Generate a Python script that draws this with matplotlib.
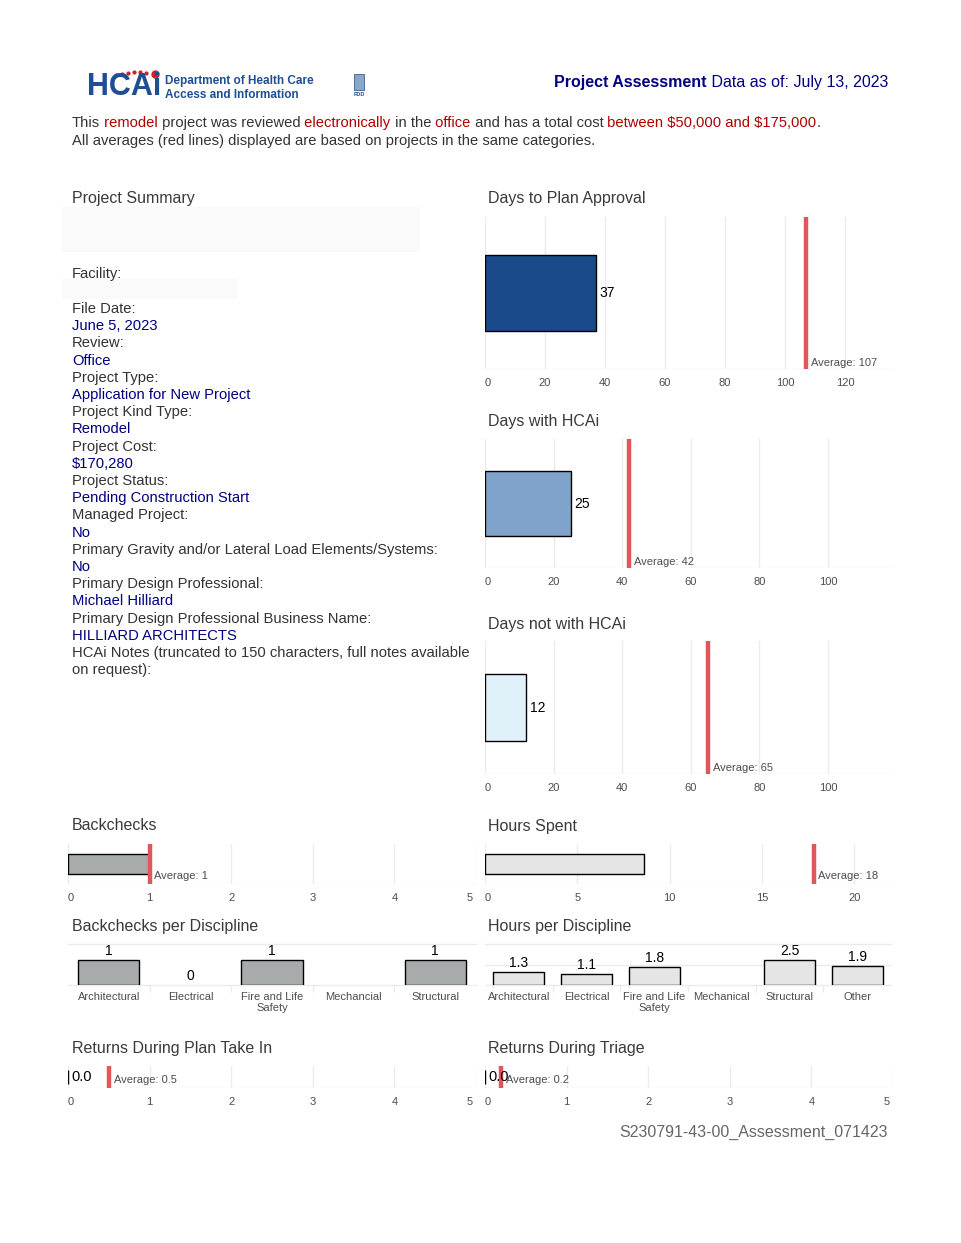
import matplotlib
matplotlib.use("Agg")
import matplotlib.pyplot as plt
from matplotlib.patches import Rectangle
from matplotlib.lines import Line2D
import matplotlib.transforms as mtransforms

plt.rcParams['font.family'] = ['Liberation Sans', 'DejaVu Sans']
plt.rcParams['text.parse_math'] = False

# ---------------- data ----------------
report_date = "July 13, 2023"
report_id = "S230791-43-00_Assessment_071423"

summary_labels = ["File Date:", "Review:", "Project Type:", "Project Kind Type:",
                  "Project Cost:", "Project Status:", "Managed Project:",
                  "Primary Gravity and/or Lateral Load Elements/Systems:",
                  "Primary Design Professional:",
                  "Primary Design Professional Business Name:"]
summary_values = ["June 5, 2023", "Office", "Application for New Project", "Remodel",
                  "$170,280", "Pending Construction Start", "No", "No",
                  "Michael Hilliard", "HILLIARD ARCHITECTS"]

plan_approval_days = 37
plan_approval_avg = 107
hcai_days = 25
hcai_avg = 42
not_hcai_days = 12
not_hcai_avg = 65
backchecks_total = 1
backchecks_avg = 1
hours_total = 8.6
hours_avg = 17.8
returns_take_in = 0.0
returns_take_in_avg = 0.5
returns_triage = 0.0
returns_triage_avg = 0.2

backcheck_disciplines = ["Architectural", "Electrical", "Fire and Life\nSafety", "Mechancial", "Structural"]
backcheck_counts = [1, 0, 1, None, 1]
hours_disciplines = ["Architectural", "Electrical", "Fire and Life\nSafety", "Mechanical", "Structural", "Other"]
hours_by_discipline = [1.3, 1.1, 1.8, None, 2.5, 1.9]

days_ticks = [0, 20, 40, 60, 80, 100, 120]
days_ticks2 = [0, 20, 40, 60, 80, 100]
count_ticks = [0, 1, 2, 3, 4, 5]
hours_ticks = [0, 5, 10, 15, 20]

# ---------------- style ----------------
W, H = 961, 1243
fig = plt.figure(figsize=(W / 100, H / 100), dpi=100)
fig.patch.set_facecolor('white')
R = fig.canvas.get_renderer()

NAVY = '#000080'
DARKRED = '#B00000'
TXT = '#333333'
GRID = '#EBEBEB'
TICK = '#4D4D4D'
AVG_RED = '#DF565B'
LOGO_BLUE = '#1F4E93'
BODY = 10.65


def fy(y):
    return 1 - y / H


def add_ax(l, t, r, b):
    ax = fig.add_axes([l / W, 1 - b / H, (r - l) / W, (b - t) / H])
    for s in ax.spines.values():
        s.set_visible(False)
    ax.set_facecolor('none')
    return ax


def rich(x, y, parts, size, ha='left'):
    texts, cur = [], x / W
    for s, color, weight in parts:
        t = fig.text(cur, fy(y), s, color=color, fontsize=size, fontweight=weight,
                     va='center', ha='left')
        cur += t.get_window_extent(renderer=R).width / W
        texts.append(t)
    if ha == 'right':
        shift = x / W - cur
        for t in texts:
            px, py = t.get_position()
            t.set_position((px + shift, py))


def title(x, y, s):
    fig.text(x / W, fy(y + 1), s, fontsize=11.5, color='#3A3A3A', va='center', ha='left')


def hbar(ax, value, avg, xmax, ticks, color, show_value, bar_h=1.0,
         value_fmt="{:g}", value_size=10, avg_fmt="{:g}", avg_dy=0.5):
    ax.barh(0, value, height=bar_h, color=color, edgecolor='black', linewidth=1.0, zorder=2)
    ax.axvline(avg, color=AVG_RED, linewidth=3.2, zorder=3)
    ax.annotate("Average: " + avg_fmt.format(avg), xy=(avg, 0),
                xycoords=mtransforms.blended_transform_factory(ax.transData, ax.transAxes),
                xytext=(3.5, avg_dy), textcoords='offset points', ha='left', va='bottom',
                fontsize=8, color=TICK, zorder=4)
    if show_value:
        ax.annotate(value_fmt.format(value), xy=(value, 0), xytext=(2.5, 0),
                    textcoords='offset points', ha='left', va='center',
                    fontsize=value_size, color='black', zorder=4)
    ax.set_xlim(0, xmax)
    ax.set_ylim(-1, 1)
    ax.set_yticks([])
    ax.set_xticks(ticks)
    ax.grid(axis='x', color=GRID, linewidth=1.0, zorder=0)
    ax.axhline(-1, color=GRID, linewidth=1.0, zorder=0)
    ax.tick_params(axis='x', length=0, labelsize=8, labelcolor=TICK, pad=6.8)
    labels = ax.get_xticklabels()
    labels[0].set_horizontalalignment('left')
    if ticks[-1] >= xmax:
        labels[-1].set_horizontalalignment('right')
        off = mtransforms.ScaledTranslation(-3 / 100, 0, fig.dpi_scale_trans)
        labels[-1].set_transform(labels[-1].get_transform() + off)


def vbars(ax, cats, vals, color, ymax, grid_y, fmt):
    n = len(cats)
    for i, v in enumerate(vals):
        if v is None:
            continue
        ax.bar(i, v, width=0.75, color=color, edgecolor='black',
               linewidth=1.0 if v > 0 else 0, zorder=2)
        ax.annotate(fmt.format(v), xy=(i, v), xytext=(0, 1.5), textcoords='offset points',
                    ha='center', va='bottom', fontsize=10, color='black', zorder=4,
                    annotation_clip=False)
    ax.set_xlim(-0.5, n - 0.5)
    ax.set_ylim(0, ymax)
    ax.set_yticks([])
    ax.set_xticks(range(n))
    ax.set_xticklabels(cats, fontsize=8, color=TICK, linespacing=1.15)
    ax.set_xticks([i + 0.5 for i in range(n - 1)], minor=True)
    ax.tick_params(axis='x', which='major', length=0, pad=5)
    ax.tick_params(axis='x', which='minor', length=5, color=GRID, width=1.0)
    for g in grid_y:
        ax.axhline(g, color=GRID, linewidth=1.0, zorder=0, clip_on=False)


# ---------------- header ----------------
fig.text(87 / W, fy(87), "HCAi", fontsize=22, fontweight='bold', color=LOGO_BLUE,
         va='center', ha='left')
fig.add_artist(Line2D([116 / W, 122 / W, 128 / W, 134 / W, 140 / W, 146 / W],
                      [fy(75), fy(73.5), fy(72.5), fy(72), fy(72), fy(72.5)],
                      transform=fig.transFigure, linestyle='none', marker='o',
                      markersize=2, color='#D0202E'))
fig.add_artist(Line2D([155 / W], [fy(74)], transform=fig.transFigure, linestyle='none',
                      marker='o', markersize=5, color='#D0202E'))
fig.text(165 / W, fy(81), "Department of Health Care", fontsize=8.5, fontweight='bold',
         color=LOGO_BLUE, va='center', ha='left')
fig.text(165 / W, fy(95), "Access and Information", fontsize=8.5, fontweight='bold',
         color=LOGO_BLUE, va='center', ha='left')
fig.add_artist(Rectangle((354 / W, fy(90)), 10 / W, 16 / H, transform=fig.transFigure,
                         facecolor='#8AA6C8', edgecolor='#3C5F8F', linewidth=0.6))
fig.text(359 / W, fy(94), "FDD", fontsize=4, fontweight='bold', color=LOGO_BLUE,
         va='center', ha='center')

rich(888, 83, [("Project Assessment", NAVY, 'bold'),
               (" Data as of: " + report_date, NAVY, 'normal')], 11.5, ha='right')

rich(72, 123, [("This", TXT, 'normal'), (" remodel", DARKRED, 'normal'),
               (" project was reviewed", TXT, 'normal'), (" electronically", DARKRED, 'normal'),
               (" in the", TXT, 'normal'), (" office", DARKRED, 'normal'),
               (" and has a total cost", TXT, 'normal'),
               (" between $50,000 and $175,000", DARKRED, 'normal'), (".", TXT, 'normal')], BODY)
fig.text(72 / W, fy(141), "All averages (red lines) displayed are based on projects in the same categories.",
         fontsize=BODY, color=TXT, va='center', ha='left')

# ---------------- project summary ----------------
title(72, 198, "Project Summary")
fig.add_artist(Rectangle((62 / W, fy(252)), (420 - 62) / W, 45 / H, transform=fig.transFigure,
                         facecolor='#FAFAFA', edgecolor='none'))
fig.text(72 / W, fy(274), "Facility:", fontsize=BODY, color=TXT, va='center')
fig.add_artist(Rectangle((62 / W, fy(299)), (238 - 62) / W, 20 / H, transform=fig.transFigure,
                         facecolor='#FAFAFA', edgecolor='none'))
yy = 309
step = 17.2
for lab, val in zip(summary_labels, summary_values):
    fig.text(72 / W, fy(yy), lab, fontsize=BODY, color=TXT, va='center')
    fig.text(72 / W, fy(yy + step), val, fontsize=BODY, color=NAVY, va='center')
    yy += 2 * step
fig.text(72 / W, fy(yy), "HCAi Notes (truncated to 150 characters, full notes available",
         fontsize=BODY, color=TXT, va='center')
fig.text(72 / W, fy(yy + step), "on request):", fontsize=BODY, color=TXT, va='center')

# ---------------- days charts ----------------
title(488, 198, "Days to Plan Approval")
ax = add_ax(485, 217, 893, 369)
hbar(ax, plan_approval_days, plan_approval_avg, 136, days_ticks, '#1A4A8A', True)

title(488, 420, "Days with HCAi")
ax = add_ax(485, 439, 893, 568)
hbar(ax, hcai_days, hcai_avg, 119, days_ticks2, '#7FA3CB', True)

title(488, 623, "Days not with HCAi")
ax = add_ax(485, 641, 893, 774)
hbar(ax, not_hcai_days, not_hcai_avg, 119, days_ticks2, '#E1F1FA', True)

# ---------------- backchecks / hours ----------------
title(72, 825, "Backchecks")
ax = add_ax(68, 844, 476, 884)
hbar(ax, backchecks_total, backchecks_avg, 5, count_ticks, '#A7ABAB', False, avg_dy=2.2)

title(488, 825, "Hours Spent")
ax = add_ax(485, 844, 893, 884)
hbar(ax, hours_total, hours_avg, 22.1, hours_ticks, '#E5E5E5', False, avg_fmt="{:.0f}", avg_dy=2.2)

title(72, 926, "Backchecks per Discipline")
ax = add_ax(68, 944, 476, 985)
vbars(ax, backcheck_disciplines, backcheck_counts, '#A7ABAB', 1.65, [0, 1.65], "{:g}")

title(488, 926, "Hours per Discipline")
ax = add_ax(485, 944, 891, 985)
vbars(ax, hours_disciplines, hours_by_discipline, '#E5E5E5', 4.05, [0, 2, 4.05], "{:.1f}")

# ---------------- returns ----------------
title(72, 1048, "Returns During Plan Take In")
ax = add_ax(68, 1066, 476, 1088)
hbar(ax, returns_take_in, returns_take_in_avg, 5, count_ticks, '#A7ABAB', True, bar_h=1.2,
     value_fmt="{:.1f}", value_size=10.5, avg_dy=2.5)

title(488, 1048, "Returns During Triage")
ax = add_ax(485, 1066, 893, 1088)
hbar(ax, returns_triage, returns_triage_avg, 5, count_ticks, '#A7ABAB', True, bar_h=1.2,
     value_fmt="{:.1f}", value_size=10.5, avg_dy=2.5)

# ---------------- footer ----------------
fig.text(888 / W, fy(1132), report_id, fontsize=11.5, color='#666666', va='center', ha='right')

fig.savefig("out.png", dpi=100, facecolor='white')
